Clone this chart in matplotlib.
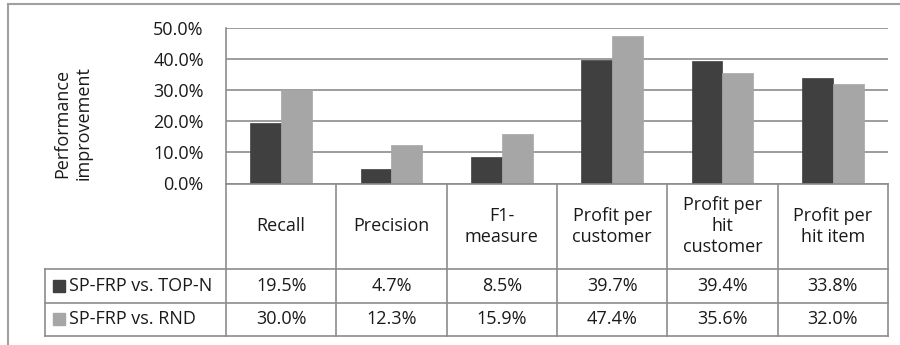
import matplotlib
matplotlib.use("Agg")
import matplotlib.pyplot as plt
from matplotlib.lines import Line2D
from matplotlib.patches import Rectangle
import numpy as np

categories = ["Recall", "Precision", "F1-\nmeasure", "Profit per\ncustomer",
              "Profit per\nhit\ncustomer", "Profit per\nhit item"]
series_names = ["SP-FRP vs. TOP-N", "SP-FRP vs. RND"]
topn = [19.5, 4.7, 8.5, 39.7, 39.4, 33.8]
rnd = [30.0, 12.3, 15.9, 47.4, 35.6, 32.0]
colors = ["#404040", "#a6a6a6"]
yticks = [0, 10, 20, 30, 40, 50]
ylabel = "Performance\nimprovement"

W, H = 900, 345
plt.rcParams['font.family'] = ['Open Sans', 'DejaVu Sans']
FS = 13
TC = "#1a1a1a"
LC = "#8c8c8c"
fig = plt.figure(figsize=(W / 100, H / 100), dpi=100)

def fx(px):
    return px / W

def fy(py):
    return 1 - py / H

# pixel geometry
PL, PR, PT, PB = 226, 888, 28, 183.5
TL = 45
R1, R2, R3 = 269, 302.5, 336

ax = fig.add_axes([fx(PL), fy(PB), fx(PR) - fx(PL), fy(PT) - fy(PB)])
n = len(categories)
x = np.arange(n)
bw = 0.28
ax.bar(x - bw / 2, topn, bw, color=colors[0], edgecolor=colors[0], linewidth=0.5, zorder=3)
ax.bar(x + bw / 2, rnd, bw, color=colors[1], edgecolor=colors[1], linewidth=0.5, zorder=3)
ax.set_xlim(-0.5, n - 0.5)
ax.set_ylim(0, 50)
ax.set_yticks(yticks)
ax.set_yticklabels([f"{v:.1f}%" for v in yticks], fontsize=FS, color=TC)
ax.tick_params(axis='y', length=0, pad=16)
ax.tick_params(axis='x', length=0, labelbottom=False)
ax.yaxis.grid(True, color=LC, linewidth=1.2, zorder=0)
for s in ["top", "right", "bottom"]:
    ax.spines[s].set_visible(False)
ax.spines["left"].set_color(LC)
ax.spines["left"].set_linewidth(1.2)
fig.text(fx(73), fy(123), ylabel, rotation=90, ha="center", va="center",
         fontsize=FS, color=TC, linespacing=1.3, multialignment="center")

# table axes covering the table area, in pixel units
tax = fig.add_axes([fx(TL), fy(R3), fx(PR) - fx(TL), fy(PB) - fy(R3)])
tax.set_xlim(TL, PR)
tax.set_ylim(R3, PB)
tax.axis("off")
cw = (PR - PL) / n

def hl(x0, x1, y):
    tax.add_line(Line2D([x0, x1], [y, y], color=LC, lw=1.2, clip_on=False))

def vl(x0, y0, y1):
    tax.add_line(Line2D([x0, x0], [y0, y1], color=LC, lw=1.2, clip_on=False))

hl(PL, PR, PB)
hl(TL, PR, R1)
hl(TL, PR, R2)
hl(TL, PR, R3)
for i in range(n + 1):
    vl(PL + i * cw, PB, R3)
vl(TL, R1, R3)

for i, c in enumerate(categories):
    tax.text(PL + (i + 0.5) * cw, (PB + R1) / 2, c, ha="center", va="center",
             fontsize=FS, color=TC, linespacing=1.2)
rows = [(R1, R2), (R2, R3)]
for (y0, y1), name, vals, col in zip(rows, series_names, [topn, rnd], colors):
    yc = (y0 + y1) / 2
    tax.add_patch(Rectangle((53, yc - 6), 12, 12, color=col, clip_on=False))
    tax.text(69, yc, name, ha="left", va="center", fontsize=FS, color=TC)
    for i, v in enumerate(vals):
        tax.text(PL + (i + 0.5) * cw, yc, f"{v:.1f}%", ha="center", va="center",
                 fontsize=FS, color=TC)

# outer frame (top and left visible)
fig.add_artist(Line2D([fx(8), 1], [fy(4), fy(4)], color="#a0a0a0", lw=1.5, transform=fig.transFigure))
fig.add_artist(Line2D([fx(8), fx(8)], [fy(4), 0], color="#a0a0a0", lw=1.5, transform=fig.transFigure))

fig.savefig("out.png", dpi=100)
